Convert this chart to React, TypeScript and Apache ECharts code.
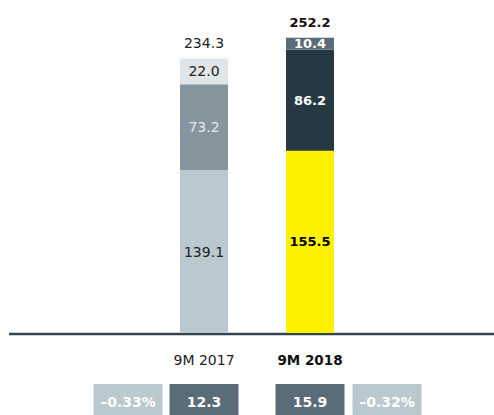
import React, { useEffect, useRef } from "react";
import * as echarts from "echarts";

const categories = ["9M 2017", "9M 2018"];
const baseValues = [139.1, 155.5];
const midValues = [73.2, 86.2];
const topValues = [22.0, 10.4];
const totals = [234.3, 252.2];
const boxValues = [12.3, 15.9];
const boxPercents = [-0.33, -0.32];

const FONT = "DejaVu Sans";
const baseColors = ["#bac8cf", "#fff200"];
const midColors = ["#85969e", "#263844"];
const topColors = ["#dfe5e8", "#5a6c78"];
const baseLabelColors = ["#222222", "#000000"];
const midLabelColors = ["#e4e9ec", "#ffffff"];
const topLabelColors = ["#222222", "#ffffff"];

function seg(values: number[], colors: string[], labelColors: string[]) {
  return values.map((v, i) => ({
    value: v,
    itemStyle: { color: colors[i] },
    label: {
      show: true,
      position: "inside",
      color: labelColors[i],
      fontWeight: i === 1 ? "bold" : "normal",
      fontFamily: FONT,
      fontSize: i === 1 ? 13 : 14,
      formatter: v.toFixed(1),
    },
  }));
}

export default function App() {
  const ref = useRef<HTMLDivElement>(null);
  useEffect(() => {
    document.body.style.margin = "0";
    const chart = echarts.init(ref.current!, null, { renderer: "svg" });
    chart.setOption({
      animation: false,
      grid: { left: 151, right: 494 - 151 - 212, top: 5, bottom: 82 },
      xAxis: {
        type: "category",
        data: categories,
        axisLine: { show: false },
        axisTick: { show: false },
        axisLabel: {
          margin: 20,
          formatter: (v: string) => (v === categories[1] ? `{b|${v}}` : `{n|${v}}`),
          rich: {
            n: { fontFamily: FONT, fontSize: 14, color: "#222222" },
            b: { fontFamily: FONT, fontSize: 13.5, fontWeight: "bold", color: "#111111" },
          },
        },
      },
      yAxis: { type: "value", min: 0, max: 280, show: false, splitLine: { show: false } },
      series: [
        { type: "bar", stack: "s", barWidth: 48, data: seg(baseValues, baseColors, baseLabelColors) },
        { type: "bar", stack: "s", barWidth: 48, data: seg(midValues, midColors, midLabelColors) },
        { type: "bar", stack: "s", barWidth: 48, data: seg(topValues, topColors, topLabelColors) },
        {
          type: "bar",
          stack: "s",
          barWidth: 48,
          data: totals.map((t, i) => ({
            value: 0,
            label: {
              show: true,
              position: "top",
              distance: 9,
              fontFamily: FONT,
              fontSize: i === 1 ? 13 : 14,
              color: i === 1 ? "#111111" : "#222222",
              fontWeight: i === 1 ? "bold" : "normal",
              formatter: t.toFixed(1),
            },
          })),
        },
      ],
    });

    const y0 = chart.convertToPixel({ yAxisIndex: 0 }, 0) as number;
    const graphics: any[] = [
      {
        type: "line",
        shape: { x1: 9, y1: y0 + 1, x2: 494, y2: y0 + 1 },
        style: { stroke: "#34434d", lineWidth: 2.5 },
      },
    ];
    const boxW = 69;
    const boxH = 32;
    const boxY = y0 + 51;
    categories.forEach((c, i) => {
      const cx = chart.convertToPixel({ xAxisIndex: 0 }, c) as number;
      const darkX = cx - boxW / 2;
      const lightX = i === 0 ? darkX - 7 - boxW : darkX + boxW + 8;
      const pct = boxPercents[i];
      const pctText = (pct < 0 ? "\u2013" : "") + Math.abs(pct).toFixed(2) + "%";
      graphics.push(
        { type: "rect", shape: { x: darkX, y: boxY, width: boxW, height: boxH }, style: { fill: "#5a6c78" } },
        {
          type: "text",
          x: darkX + boxW / 2,
          y: boxY + 18,
          style: {
            text: boxValues[i].toFixed(1),
            fill: "#ffffff",
            font: `bold 14px "${FONT}"`,
            textAlign: "center",
            textVerticalAlign: "middle",
          },
        },
        { type: "rect", shape: { x: lightX, y: boxY, width: boxW, height: boxH }, style: { fill: "#bac8cf" } },
        {
          type: "text",
          x: lightX + boxW / 2,
          y: boxY + 18,
          style: {
            text: pctText,
            fill: "#ffffff",
            font: `bold 14px "${FONT}"`,
            textAlign: "center",
            textVerticalAlign: "middle",
          },
        }
      );
    });
    chart.setOption({ graphic: graphics });
    return () => chart.dispose();
  }, []);
  return <div ref={ref} style={{ width: 494, height: 415 }} />;
}
